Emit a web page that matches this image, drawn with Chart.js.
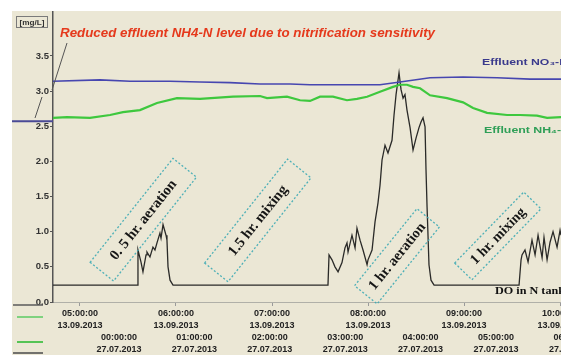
<!DOCTYPE html>
<html><head><meta charset="utf-8">
<script src="https://cdn.jsdelivr.net/npm/chart.js@4.4.1/dist/chart.umd.min.js"></script>
<style>html,body{margin:0;padding:0;background:#fff}#wrap{width:561px;height:355px}</style>
</head><body><div id="wrap"><canvas id="c" width="561" height="355" style="width:561px;height:355px"></canvas></div>
<script>
// ---- data (time in hours of 13.09.2013, values in mg/L) ----
const doTime  = [4.719,5.594,5.604,5.635,5.656,5.688,5.698,5.729,5.760,5.781,5.802,5.833,5.844,5.865,5.896,5.906,5.917,5.938,5.969,
  7.583,7.594,7.625,7.656,7.688,7.729,7.760,7.781,7.792,7.833,7.865,7.885,7.917,7.948,7.990,8.000,8.042,8.073,8.104,8.125,8.146,8.177,8.208,8.250,8.271,8.292,8.313,8.323,8.344,8.365,8.385,8.406,8.438,8.469,8.500,8.531,8.552,8.573,8.594,8.604,8.615,8.635,8.656,8.688,
  9.573,9.594,9.604,9.635,9.667,9.708,9.740,9.771,9.813,9.833,9.865,9.896,9.927,9.969,10.000,10.010];
const doValue = [0.24,0.24,0.74,0.57,0.43,0.67,0.71,0.64,0.78,0.74,0.84,0.98,0.91,1.10,0.95,0.88,0.50,0.31,0.24,
  0.24,0.67,0.60,0.50,0.43,0.56,0.77,0.84,0.71,0.95,0.77,1.05,0.88,0.74,0.53,0.60,0.74,1.14,1.41,1.66,2.02,2.23,2.12,2.30,2.66,2.95,3.16,3.26,3.02,2.90,2.95,2.73,2.48,2.16,2.33,2.48,2.56,2.62,2.49,1.88,1.35,0.53,0.31,0.24,
  0.24,0.60,0.67,0.74,0.57,0.88,0.67,0.95,0.63,0.92,0.60,0.85,1.00,0.78,1.02,0.95];
const no3Time  = [4.719,5.208,5.521,5.938,6.250,6.563,6.875,7.188,7.396,7.813,8.125,8.333,8.646,8.990,9.344,9.688,10.010];
const no3Value = [3.14,3.16,3.14,3.14,3.13,3.12,3.10,3.10,3.09,3.09,3.09,3.13,3.19,3.20,3.19,3.17,3.17];
const nh4Time  = [4.719,4.865,5.104,5.313,5.448,5.625,5.802,6.010,6.250,6.594,6.875,6.948,7.156,7.292,7.396,7.500,7.635,7.781,7.885,7.990,8.125,8.260,8.333,8.406,8.469,8.542,8.646,8.823,8.990,9.094,9.240,9.448,9.583,9.760,9.865,10.010];
const nh4Value = [2.62,2.63,2.62,2.66,2.70,2.73,2.83,2.90,2.89,2.92,2.93,2.90,2.92,2.87,2.86,2.92,2.92,2.87,2.89,2.92,2.99,3.06,3.09,3.09,3.06,3.04,2.94,2.90,2.84,2.76,2.69,2.66,2.66,2.65,2.62,2.63];
const yTickValues = [0,0.5,1.0,1.5,2.0,2.5,3.0,3.5];
const topTickHours = [5,6,7,8,9,10];
const topTickLabels = [["05:00:00","13.09.2013"],["06:00:00","13.09.2013"],["07:00:00","13.09.2013"],["08:00:00","13.09.2013"],["09:00:00","13.09.2013"],["10:00:00","13.09.2013"]];
const bottomTickHours = [0,1,2,3,4,5,6];
const bottomTickLabels = [["00:00:00","27.07.2013"],["01:00:00","27.07.2013"],["02:00:00","27.07.2013"],["03:00:00","27.07.2013"],["04:00:00","27.07.2013"],["05:00:00","27.07.2013"],["06:00:00","27.07.2013"]];
const phaseLabels = ["0. 5 hr. aeration","1.5 hr. mixing","1 hr. aeration","1 hr. mixing"];
const seriesNames = ["Effluent NO\u2083-N","Effluent NH\u2084-N","DO in N tank"];
const titleText = "Reduced effluent NH4-N level due to nitrification sensitivity";
const unitText = "[mg/L]";

// ---- styling / layout helpers ----
const phaseBoxes = [
  {t:5.659, v:1.17, angle:-51.4, len:133, wid:30, tw:98},
  {t:6.852, v:1.16, angle:-51.4, len:133, wid:30, tw:86},
  {t:8.302, v:0.65, angle:-51.0, len:99,  wid:29, tw:82},
  {t:9.352, v:0.94, angle:-45.8, len:99,  wid:24, tw:73}
];
function drawFit(ctx, text, x, y, targetW, font, align){
  ctx.save();
  ctx.font = font;
  const w = ctx.measureText(text).width;
  const s = targetW / w;
  ctx.translate(x, y);
  ctx.scale(s, 1);
  ctx.textAlign = align || 'left';
  ctx.textBaseline = 'middle';
  ctx.fillText(text, 0, 0);
  ctx.restore();
}
function fitSize(ctx, text, targetW, weight, family){
  ctx.font = weight + ' 10px ' + family;
  const w = ctx.measureText(text).width;
  return 10 * targetW / w;
}

const bgPlugin = {
  id:'bg',
  beforeDraw(chart){
    const ctx = chart.ctx;
    ctx.save();
    ctx.fillStyle = '#ffffff';
    ctx.fillRect(0,0,chart.width,chart.height);
    ctx.fillStyle = '#ebe7d5';
    ctx.fillRect(12,11,chart.width-12,chart.height-11);
    ctx.restore();
  }
};

const annoPlugin = {
  id:'anno',
  afterDraw(chart){
    const ctx = chart.ctx, xs = chart.scales.x, ys = chart.scales.y;
    ctx.save();
    // unit box
    ctx.strokeStyle = '#7a7a7a'; ctx.lineWidth = 1;
    ctx.strokeRect(16.5,16.5,31,11);
    ctx.fillStyle = '#333';
    drawFit(ctx, unitText, 32, 22.5, 25, 'bold 8px "Liberation Sans", Arial, sans-serif', 'center');
    // left marker line & pointer lines
    ctx.strokeStyle = '#4a4a96'; ctx.lineWidth = 2;
    ctx.beginPath(); ctx.moveTo(12, ys.getPixelForValue(2.57)); ctx.lineTo(53, ys.getPixelForValue(2.57)); ctx.stroke();
    ctx.strokeStyle = '#555'; ctx.lineWidth = 1;
    ctx.beginPath(); ctx.moveTo(67,43); ctx.lineTo(52,90); ctx.stroke();
    ctx.beginPath(); ctx.moveTo(42,97); ctx.lineTo(35,118); ctx.stroke();
    // bottom-left legend swatches
    const sw = [[13,305,'#5a5a5a',1.5],[17,317,'#7fd27f',2],[17,342,'#55c455',2],[13,353,'#4a4a4a',1.5]];
    sw.forEach(s=>{ctx.strokeStyle=s[2];ctx.lineWidth=s[3];ctx.beginPath();ctx.moveTo(s[0],s[1]);ctx.lineTo(43,s[1]);ctx.stroke();});
    // red title
    ctx.fillStyle = '#e5391c';
    drawFit(ctx, titleText, 60, 33.5, 375, 'italic bold 13px "Liberation Sans", Arial, sans-serif');
    // series labels
    ctx.fillStyle = '#3a3a8c';
    drawFit(ctx, seriesNames[0], 482, 62, 86, 'bold 9.5px "Liberation Sans", Arial, sans-serif');
    ctx.fillStyle = '#2f9f57';
    drawFit(ctx, seriesNames[1], 484, 130, 86, 'bold 9.5px "Liberation Sans", Arial, sans-serif');
    ctx.fillStyle = '#111';
    drawFit(ctx, seriesNames[2], 495, 291, 70, 'bold 10px "Liberation Serif", serif');
    // phase boxes
    phaseBoxes.forEach((b,i)=>{
      const cx = xs.getPixelForValue(b.t), cy = ys.getPixelForValue(b.v);
      ctx.save();
      ctx.translate(cx,cy);
      ctx.rotate(b.angle*Math.PI/180);
      ctx.setLineDash([2,2]);
      ctx.strokeStyle = 'rgba(60,170,180,0.9)';
      ctx.lineWidth = 1.3;
      ctx.strokeRect(-b.len/2, -b.wid/2, b.len, b.wid);
      ctx.setLineDash([]);
      ctx.fillStyle = '#161616';
      const fs = fitSize(ctx, phaseLabels[i], b.tw, 'bold', '"Liberation Serif", serif');
      ctx.font = 'bold ' + fs.toFixed(2) + 'px "Liberation Serif", serif';
      ctx.textAlign = 'center'; ctx.textBaseline = 'middle';
      ctx.fillText(phaseLabels[i], 0, 0.5);
      ctx.restore();
    });
    ctx.restore();
  }
};

const tickFontX = {family:'"Liberation Sans", Arial, sans-serif', size:9, weight:'bold', lineHeight:1.35};
const tickFontY = {family:'"Liberation Sans", Arial, sans-serif', size:9.5, weight:'bold'};

new Chart(document.getElementById('c').getContext('2d'), {
  type:'line',
  data:{datasets:[
    {label:seriesNames[0], data:no3Time.map((t,i)=>({x:t,y:no3Value[i]})), borderColor:'#4747b0', borderWidth:1.6, pointRadius:0, tension:0, xAxisID:'x', yAxisID:'y'},
    {label:seriesNames[1], data:nh4Time.map((t,i)=>({x:t,y:nh4Value[i]})), borderColor:'#3ec83e', borderWidth:2.2, pointRadius:0, tension:0, xAxisID:'x', yAxisID:'y'},
    {label:seriesNames[2], data:doTime.map((t,i)=>({x:t,y:doValue[i]})), borderColor:'#2a2a28', borderWidth:1.3, pointRadius:0, tension:0, xAxisID:'x', yAxisID:'y'}
  ]},
  options:{
    responsive:false, animation:false, devicePixelRatio:1,
    layout:{padding:{top:12,left:0,right:0,bottom:0}},
    plugins:{legend:{display:false}, tooltip:{enabled:false}, title:{display:false}},
    scales:{
      x:{type:'linear', position:'bottom', weight:0, min:4.719, max:10.01,
        afterBuildTicks:s=>{s.ticks = topTickHours.map(v=>({value:v}));},
        afterFit:s=>{s.height = 29; s.paddingLeft = 0; s.paddingRight = 0;},
        ticks:{autoSkip:false, maxRotation:0, minRotation:0, padding:1, color:'#222', font:tickFontX, callback:(v,i)=>topTickLabels[i]},
        grid:{drawOnChartArea:false, tickLength:4, color:'#9a9a9a'},
        border:{color:'#b0b0a8', width:1}
      },
      x2:{type:'linear', position:'bottom', weight:1, min:-0.875, max:5.862,
        afterBuildTicks:s=>{s.ticks = bottomTickHours.map(v=>({value:v}));},
        afterFit:s=>{s.height = 24; s.paddingLeft = 0; s.paddingRight = 0;},
        ticks:{autoSkip:false, maxRotation:0, minRotation:0, padding:0, color:'#222', font:tickFontX, callback:(v,i)=>bottomTickLabels[i]},
        grid:{display:false, drawTicks:false},
        border:{display:false}
      },
      y:{type:'linear', position:'left', min:0, max:4.125,
        afterBuildTicks:s=>{s.ticks = yTickValues.map(v=>({value:v}));},
        afterFit:s=>{s.width = 53; s.paddingTop = 0; s.paddingBottom = 0;},
        ticks:{padding:1, color:'#333', font:tickFontY, callback:v=>Number(v).toFixed(1)},
        grid:{drawOnChartArea:false, tickLength:3, color:'#555'},
        border:{color:'#555', width:1.5}
      }
    }
  },
  plugins:[bgPlugin, annoPlugin]
});
</script></body></html>
